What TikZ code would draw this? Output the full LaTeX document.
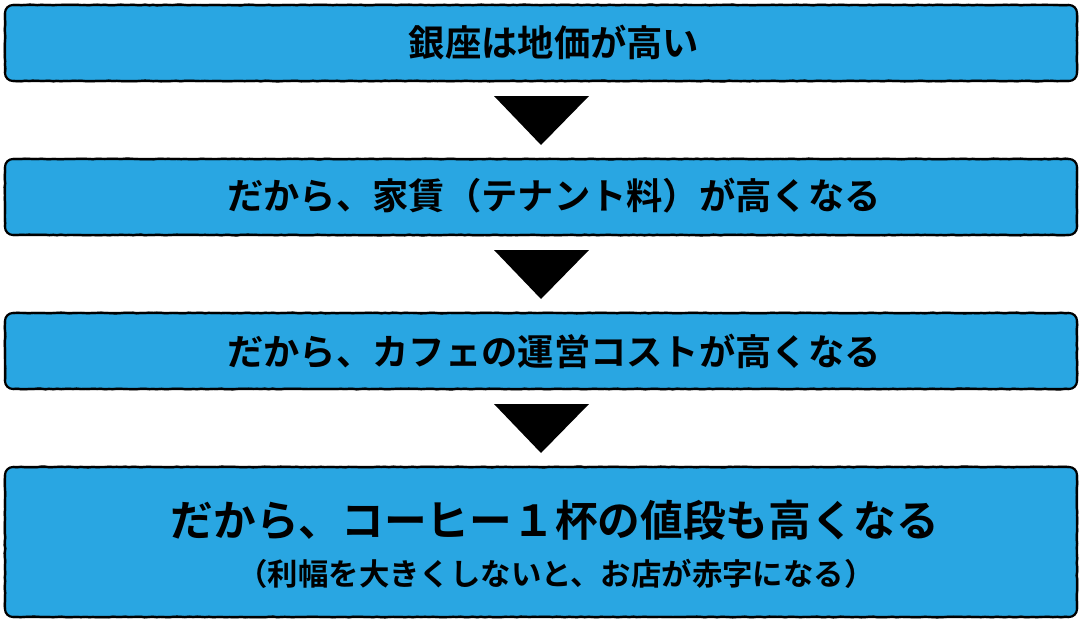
\documentclass[tikz,border=0pt]{standalone}
\usepackage{fontspec}
\newfontfamily\cjk{Noto Sans CJK JP}[BoldFont={Noto Sans CJK JP Bold}]
\usetikzlibrary{decorations.pathmorphing}
\definecolor{fillblue}{HTML}{29A6E2}
\pgfmathsetseed{7}
\tikzset{x=1pt,y=-1pt,
 box/.style={draw=black,line width=2.2pt,fill=fillblue,rounded corners=8pt,minimum width=1072pt,inner sep=0pt,outer sep=0pt,anchor=north west},
 edge wobble/.style={draw=black,line width=2.2pt,decorate,decoration={random steps,segment length=4pt,amplitude=0.45pt}},
 tri/.style={fill=black,draw=none},
 lab/.style={text=black,inner sep=0pt},
 labm/.style={lab,font=\cjk\bfseries\fontsize{36.3}{40}\selectfont},
 labl/.style={lab,font=\cjk\bfseries\fontsize{42.7}{46}\selectfont},
 labs/.style={lab,font=\cjk\bfseries\fontsize{30.4}{34}\selectfont}}
\newcommand{\wobbleoutline}[1]{%
 \draw[edge wobble] ([xshift=8pt]#1.north west) -- ([xshift=-8pt]#1.north east);
 \draw[edge wobble] ([yshift=-8pt]#1.north east) -- ([yshift=8pt]#1.south east);
 \draw[edge wobble] ([xshift=-8pt]#1.south east) -- ([xshift=8pt]#1.south west);
 \draw[edge wobble] ([yshift=8pt]#1.south west) -- ([yshift=-8pt]#1.north west);}
\begin{document}
\begin{tikzpicture}
\useasboundingbox (0,0) rectangle (1080,621);
\node[box,minimum height=76pt] (a) at (5,5) {};
\node[box,minimum height=76pt] (b) at (5,159) {};
\node[box,minimum height=76pt] (c) at (5,313) {};
\node[box,minimum height=150pt] (d) at (5,467) {};
\wobbleoutline{a}
\wobbleoutline{b}
\wobbleoutline{c}
\wobbleoutline{d}
\node[labm] (ta) at (554,42) {銀座は地価が高い};
\node[labm] (tb) at (554,196) {だから、家賃（テナント料）が高くなる};
\node[labm] (tc) at (554,351) {だから、カフェの運営コストが高くなる};
\node[labl] (td) at (555,520) {だから、コーヒー１杯の値段も高くなる};
\node[labs] (te) at (556,574) {（利幅を大きくしないと、お店が赤字になる）};
\fill[tri] (494,96) -- (589,96) -- (541,145) -- cycle;
\fill[tri] (494,250) -- (589,250) -- (541,299) -- cycle;
\fill[tri] (494,404) -- (589,404) -- (541,453) -- cycle;
\end{tikzpicture}
\end{document}
